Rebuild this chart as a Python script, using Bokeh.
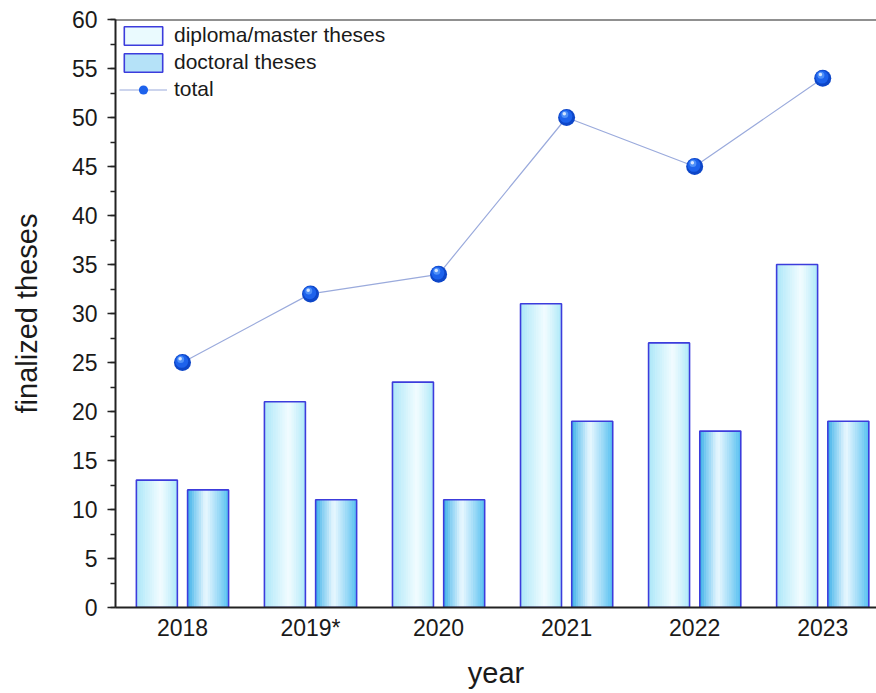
import numpy as np
from bokeh.plotting import figure
from bokeh.models import (ColumnDataSource, Range1d, FixedTicker, SingleIntervalTicker,
                          Legend, LegendItem, Span)
from bokeh.transform import dodge
from bokeh.embed import file_html
from bokeh.resources import INLINE

# Finalized theses per year
years = ["2018", "2019*", "2020", "2021", "2022", "2023"]
diploma = [13, 21, 23, 31, 27, 35]
doctoral = [12, 11, 11, 19, 18, 19]
total = [25, 32, 34, 50, 45, 54]

x = list(range(len(years)))
src = ColumnDataSource(dict(x=x, diploma=diploma, doctoral=doctoral, total=total))

FONT = "Liberation Sans"
BAR_W = 0.32
OFFSET = 0.2
N_STRIPS = 18

p = figure(width=876, height=693, output_backend="svg", toolbar_location=None,
           x_range=Range1d(-0.523, 5.42), y_range=Range1d(0, 60),
           min_border_left=115, min_border_right=0, min_border_top=19,
           min_border_bottom=86, background_fill_color="white",
           border_fill_color="white", outline_line_color=None)
p.grid.visible = False


def hex2rgb(h):
    h = h.lstrip("#")
    return np.array([int(h[i:i + 2], 16) for i in (0, 2, 4)], dtype=float)


def rgb2hex(c):
    c = np.clip(np.round(c), 0, 255).astype(int)
    return "#%02x%02x%02x" % tuple(c)


def shading(edge_l, edge_r, peak, peak_pos, n):
    """Horizontal cylinder-like shading across a bar."""
    el, er, pk = hex2rgb(edge_l), hex2rgb(edge_r), hex2rgb(peak)
    out = []
    for k in range(n):
        t = (k + 0.5) / n
        if t < peak_pos:
            a = (t / peak_pos) ** 0.9
            c = el + (pk - el) * a
        else:
            a = ((1 - t) / (1 - peak_pos)) ** 0.9
            c = er + (pk - er) * a
        out.append(rgb2hex(c))
    return out


def shaded_bars(field, center, colors):
    renderers = []
    n = len(colors)
    sw = BAR_W / n
    for k, col in enumerate(colors):
        off = center - BAR_W / 2 + (k + 0.5) * sw
        r = p.vbar(x=dodge("x", off), top=field, bottom=0, width=sw * 1.25,
                   source=src, fill_color=col, line_color=None)
        renderers.append(r)
    outline = p.vbar(x=dodge("x", center), top=field, bottom=0, width=BAR_W,
                     source=src, fill_color=None, line_color="#3c3cdc", line_width=1.6)
    return renderers, outline


dip_cols = shading("#a8e6f8", "#ace8f8", "#f2fcff", 0.6, N_STRIPS)
doc_cols = shading("#36aee8", "#52bef0", "#eaf8ff", 0.45, N_STRIPS)

dip_r, dip_out = shaded_bars("diploma", -OFFSET, dip_cols)
doc_r, doc_out = shaded_bars("doctoral", OFFSET, doc_cols)

# total line with sphere-like markers
line_r = p.line("x", "total", source=src, line_color="#9aaadc", line_width=1.2)
m1 = p.scatter("x", "total", source=src, size=17, fill_color="#0d46c8", line_color=None)
m2 = p.scatter(dodge("x", -0.006), dodge("total", 0.12), source=src, size=13,
               fill_color="#1d62ec", line_color=None)
m3 = p.scatter(dodge("x", -0.014), dodge("total", 0.3), source=src, size=7,
               fill_color="#4f90f8", line_color=None)
m4 = p.scatter(dodge("x", -0.018), dodge("total", 0.38), source=src, size=3.5,
               fill_color="#d6e6ff", line_color=None)

# top frame line
p.add_layout(Span(location=60, dimension="width", line_color="#222222", line_width=2))

# axes
xa = p.xaxis[0]
xa.ticker = FixedTicker(ticks=x)
xa.major_label_overrides = {i: y for i, y in enumerate(years)}
xa.major_tick_out = 0
xa.major_tick_in = 0
xa.major_label_standoff = 7
xa.axis_label = "year"
xa.axis_label_standoff = 13

ya = p.yaxis[0]
ya.ticker = SingleIntervalTicker(interval=5, num_minor_ticks=2)
ya.major_tick_out = 8
ya.major_tick_in = 0
ya.minor_tick_out = 5
ya.minor_tick_in = 0
ya.major_label_standoff = 10
ya.axis_label = "finalized theses"
ya.axis_label_standoff = 26

for ax in (xa, ya):
    ax.axis_line_color = "#222222"
    ax.axis_line_width = 2
    ax.major_tick_line_color = "#222222" if ax is ya else None
    ax.major_tick_line_width = 1.5
    ax.minor_tick_line_width = 1.5
    ax.minor_tick_line_color = "#222222" if ax is ya else None
    ax.major_label_text_font = FONT
    ax.major_label_text_font_size = "23px"
    ax.major_label_text_color = "#1a1a1a"
    ax.axis_label_text_font = FONT
    ax.axis_label_text_font_size = "29px"
    ax.axis_label_text_font_style = "normal"
    ax.axis_label_text_color = "#1a1a1a"

legend = Legend(items=[
    LegendItem(label="diploma/master theses", renderers=[dip_r[N_STRIPS // 2], dip_out]),
    LegendItem(label="doctoral theses", renderers=[doc_r[N_STRIPS // 2 - 4], doc_out]),
    LegendItem(label="total", renderers=[line_r, m2]),
], location="top_left")
legend.label_text_font = FONT
legend.label_text_font_size = "21px"
legend.label_text_color = "#1a1a1a"
legend.glyph_width = 48
legend.glyph_height = 23
legend.spacing = 3
legend.padding = 3
legend.margin = 4
legend.label_standoff = 7
legend.background_fill_alpha = 0
legend.border_line_color = None
p.add_layout(legend)

open("out.html", "w").write(file_html(p, INLINE))
